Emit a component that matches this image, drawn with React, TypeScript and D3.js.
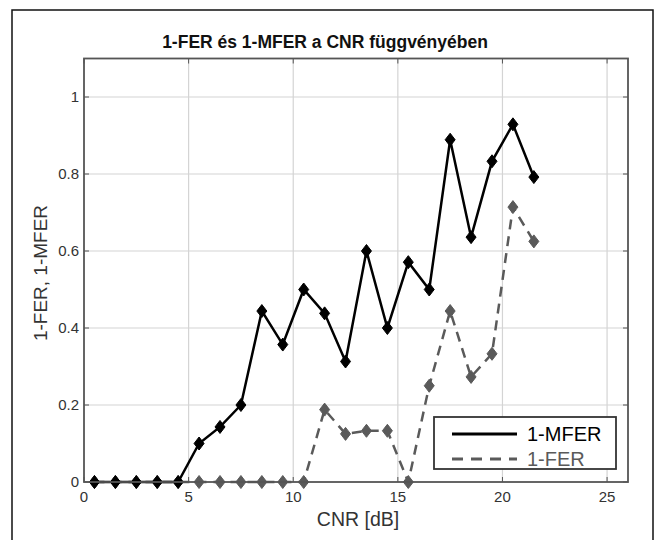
import React, { useEffect, useRef } from "react";
import * as d3 from "d3";

// CNR values (dB) at which both curves are sampled
const cnr = [0.5, 1.5, 2.5, 3.5, 4.5, 5.5, 6.5, 7.5, 8.5, 9.5, 10.5, 11.5, 12.5, 13.5, 14.5, 15.5, 16.5, 17.5, 18.5, 19.5, 20.5, 21.5];
const mfer = [0, 0, 0, 0, 0, 0.1, 0.143, 0.2, 0.444, 0.357, 0.5, 0.438, 0.313, 0.6, 0.4, 0.571, 0.5, 0.889, 0.636, 0.833, 0.929, 0.792];
const fer = [0, 0, 0, 0, 0, 0, 0, 0, 0, 0, 0, 0.188, 0.125, 0.133, 0.133, 0, 0.25, 0.444, 0.273, 0.333, 0.714, 0.625];
const xTicks = [0, 5, 10, 15, 20, 25];
const yTicks = [0, 0.2, 0.4, 0.6, 0.8, 1];
const seriesNames = ["1-MFER", "1-FER"];

const FONT = "'Liberation Sans', Arial, sans-serif";

const App: React.FC = () => {
  const svgRef = useRef<SVGSVGElement | null>(null);

  useEffect(() => {
    const width = 661;
    const height = 540;
    const margin = { top: 58.5, right: 33, bottom: 58, left: 84 };

    const svg = d3.select(svgRef.current).attr("width", width).attr("height", height);
    svg.selectAll("*").remove();

    // outer figure frame (open at the bottom)
    svg
      .append("path")
      .attr("d", `M12,560 L12,10 L653,10 L653,560`)
      .attr("fill", "none")
      .attr("stroke", "#111")
      .attr("stroke-width", 1.5);

    const x = d3.scaleLinear().domain([0, 26]).range([margin.left, width - margin.right]);
    const y = d3.scaleLinear().domain([0, 1.1]).range([height - margin.bottom, margin.top]);
    const [x0, x1] = x.range();
    const [y0, y1] = y.range();

    // grid
    svg
      .append("g")
      .selectAll("line")
      .data(xTicks.filter((t) => t > 0))
      .join("line")
      .attr("x1", (d) => x(d))
      .attr("x2", (d) => x(d))
      .attr("y1", y0)
      .attr("y2", y1)
      .attr("stroke", "#d4d4d4")
      .attr("stroke-width", 1.2);
    svg
      .append("g")
      .selectAll("line")
      .data(yTicks.filter((t) => t > 0))
      .join("line")
      .attr("x1", x0)
      .attr("x2", x1)
      .attr("y1", (d) => y(d))
      .attr("y2", (d) => y(d))
      .attr("stroke", "#d4d4d4")
      .attr("stroke-width", 1.2);

    // inner tick marks on all four sides
    const tk = 5;
    const ticksG = svg.append("g").attr("stroke", "#555").attr("stroke-width", 1);
    xTicks.forEach((t) => {
      ticksG.append("line").attr("x1", x(t)).attr("x2", x(t)).attr("y1", y0).attr("y2", y0 - tk);
      ticksG.append("line").attr("x1", x(t)).attr("x2", x(t)).attr("y1", y1).attr("y2", y1 + tk);
    });
    yTicks.forEach((t) => {
      ticksG.append("line").attr("x1", x0).attr("x2", x0 + tk).attr("y1", y(t)).attr("y2", y(t));
      ticksG.append("line").attr("x1", x1).attr("x2", x1 - tk).attr("y1", y(t)).attr("y2", y(t));
    });

    // tick labels
    svg
      .append("g")
      .selectAll("text")
      .data(xTicks)
      .join("text")
      .attr("x", (d) => x(d))
      .attr("y", y0 + 20)
      .attr("text-anchor", "middle")
      .attr("font-family", FONT)
      .attr("font-size", 15)
      .attr("fill", "#333")
      .text((d) => String(d));
    svg
      .append("g")
      .selectAll("text")
      .data(yTicks)
      .join("text")
      .attr("x", x0 - 5)
      .attr("y", (d) => y(d) + 5)
      .attr("text-anchor", "end")
      .attr("font-family", FONT)
      .attr("font-size", 15)
      .attr("fill", "#333")
      .text((d) => String(d));

    // axis labels & title
    svg
      .append("text")
      .attr("x", 358)
      .attr("y", 526)
      .attr("text-anchor", "middle")
      .attr("font-family", FONT)
      .attr("font-size", 19.5)
      .attr("fill", "#333")
      .text("CNR [dB]");
    svg
      .append("text")
      .attr("transform", `translate(47, 273) rotate(-90)`)
      .attr("text-anchor", "middle")
      .attr("font-family", FONT)
      .attr("font-size", 19)
      .attr("fill", "#333")
      .text("1-FER, 1-MFER");
    svg
      .append("text")
      .attr("x", 325)
      .attr("y", 48)
      .attr("text-anchor", "middle")
      .attr("font-family", FONT)
      .attr("font-size", 17.5)
      .attr("font-weight", "bold")
      .attr("fill", "#111")
      .text("1-FER és 1-MFER a CNR függvényében");

    const line = d3
      .line<number>()
      .x((_, i) => x(cnr[i]))
      .y((d) => y(d));

    const diamond = "M0,-6.5 L5,0 L0,6.5 L-5,0 Z";

    const drawSeries = (vals: number[], color: string, dash: string | null) => {
      const g = svg.append("g");
      g.append("path")
        .attr("d", line(vals))
        .attr("fill", "none")
        .attr("stroke", color)
        .attr("stroke-width", 2.5)
        .attr("stroke-dasharray", dash);
      g.selectAll("path.m")
        .data(vals)
        .join("path")
        .attr("class", "m")
        .attr("d", diamond)
        .attr("transform", (d, i) => `translate(${x(cnr[i])},${y(d)})`)
        .attr("fill", color)
        .attr("stroke", color)
        .attr("stroke-width", 1);
    };

    drawSeries(fer, "#5a5a5a", "10,7");
    drawSeries(mfer, "#000", null);

    // axes box
    svg
      .append("rect")
      .attr("x", x0)
      .attr("y", y1)
      .attr("width", x1 - x0)
      .attr("height", y0 - y1)
      .attr("fill", "none")
      .attr("stroke", "#555")
      .attr("stroke-width", 1.8);

    // legend
    const lg = svg.append("g").attr("transform", "translate(434,417)");
    lg.append("rect")
      .attr("width", 182)
      .attr("height", 52)
      .attr("fill", "#fff")
      .attr("stroke", "#333")
      .attr("stroke-width", 1.8);
    const legendItems = [
      { name: seriesNames[0], color: "#000", dash: null as string | null },
      { name: seriesNames[1], color: "#5a5a5a", dash: "11,8" },
    ];
    legendItems.forEach((it, i) => {
      const ly = 17 + i * 25;
      lg.append("line")
        .attr("x1", 18)
        .attr("x2", 83)
        .attr("y1", ly)
        .attr("y2", ly)
        .attr("stroke", it.color)
        .attr("stroke-width", 3)
        .attr("stroke-dasharray", it.dash);
      lg.append("text")
        .attr("x", 93)
        .attr("y", ly + 7)
        .attr("font-family", FONT)
        .attr("font-size", 20)
        .attr("fill", it.color)
        .text(it.name);
    });
  }, []);

  return (
    <div>
      <svg ref={svgRef} style={{ position: "absolute", left: 0, top: 0 }}></svg>
    </div>
  );
};

export default App;
